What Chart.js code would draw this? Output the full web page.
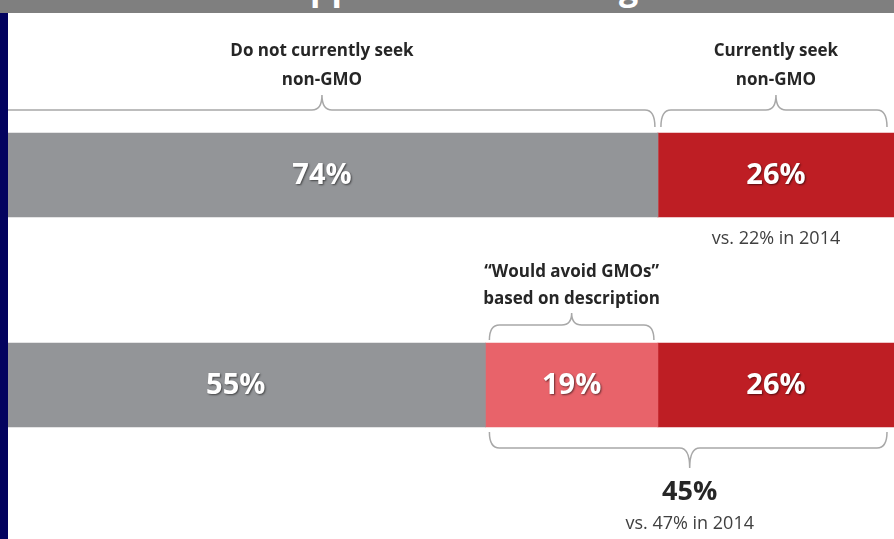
<!DOCTYPE html>
<html>
<head>
<meta charset="utf-8">
<script src="https://cdn.jsdelivr.net/npm/chart.js@4/dist/chart.umd.min.js"></script>
<style>
  html, body { margin:0; padding:0; width:894px; height:539px; overflow:hidden; background:#fff; }
  #wrap { position:absolute; left:-14px; top:0; width:908px; height:539px; }
  #header { position:absolute; left:0; top:0; width:894px; height:13px; background:#7f7f7f; overflow:hidden; z-index:5; }
  #title { position:absolute; left:110px; top:-33px; color:#fff; font:bold 34px "Open Sans", sans-serif; white-space:nowrap; line-height:40px; }
  #navy { position:absolute; left:0; top:13px; width:8px; height:526px; background:#03035f; z-index:5; }
</style>
</head>
<body>
<div id="header"><div id="title">Consumer approach to labeling</div></div>
<div id="navy"></div>
<div id="wrap"><canvas id="c" width="908" height="539"></canvas></div>
<script>
const categories = ["Currently seek non-GMO", "Currently seek + would avoid GMOs"];
const doNotSeek = [74, 55];
const wouldAvoid = [0, 19];
const currentlySeek = [26, 26];
const totalAvoid = 45;
const prior2014Seek = 22;
const prior2014Avoid = 47;

const GRAY = "#939598", RED = "#be1e24", PINK = "#e8636a", LINE = "#a8a8a8", TXT = "#262626", SUB = "#404040";
const FONT = "'Open Sans', sans-serif";

// position the (mostly clipped) title so its "pp" sits where the reference shows it
(function () {
  const t = document.getElementById("title");
  const m = document.createElement("canvas").getContext("2d");
  m.font = "bold 34px 'Open Sans', sans-serif";
  t.style.left = (310 - m.measureText("Consumer a").width) + "px";
})();

function brace(ctx, x1, x2, yEnd, yLine, yPeak, xm) {
  const r = Math.min(10, (x2 - x1) / 4);
  ctx.beginPath();
  ctx.moveTo(x1, yEnd);
  ctx.quadraticCurveTo(x1, yLine, x1 + r, yLine);
  ctx.lineTo(xm - r, yLine);
  ctx.quadraticCurveTo(xm, yLine, xm, yPeak);
  ctx.moveTo(xm, yPeak);
  ctx.quadraticCurveTo(xm, yLine, xm + r, yLine);
  ctx.lineTo(x2 - r, yLine);
  ctx.quadraticCurveTo(x2, yLine, x2, yEnd);
  ctx.stroke();
}

const annot = {
  id: "annot",
  afterDatasetsDraw(chart) {
    const ctx = chart.ctx;
    const xs = chart.scales.x;
    const m0 = chart.getDatasetMeta(0).data;
    const top1 = m0[0].y - m0[0].height / 2, top2 = m0[1].y - m0[1].height / 2, bot2 = m0[1].y + m0[1].height / 2;
    ctx.save();
    ctx.font = "bold 29px " + FONT;
    ctx.textAlign = "center"; ctx.textBaseline = "middle";
    ctx.fillStyle = "#fff";
    ctx.shadowColor = "rgba(0,0,0,0.55)"; ctx.shadowOffsetX = 1; ctx.shadowOffsetY = 1; ctx.shadowBlur = 2;
    chart.data.datasets.forEach((ds, di) => {
      chart.getDatasetMeta(di).data.forEach((bar, i) => {
        const v = ds.data[i];
        if (!v) return;
        ctx.fillText(v + "%", (bar.x + bar.base) / 2, bar.y + 1);
      });
    });
    ctx.restore();
    ctx.save();
    ctx.strokeStyle = LINE; ctx.lineWidth = 1.5;
    const x0 = xs.getPixelForValue(0), x55 = xs.getPixelForValue(doNotSeek[1]);
    const x74 = xs.getPixelForValue(doNotSeek[0]), x100 = xs.getPixelForValue(100);
    brace(ctx, x0 + 3, x74 - 3, top1 - 6, top1 - 23, top1 - 38, (x0 + x74) / 2);
    brace(ctx, x74 + 3, x100 - 7, top1 - 6, top1 - 23, top1 - 38, (x74 + x100) / 2);
    brace(ctx, x55 + 4, x74 - 4, top2 - 3, top2 - 18, top2 - 30, (x55 + x74) / 2);
    brace(ctx, x55 + 4, x100 - 7, bot2 + 5, bot2 + 21, bot2 + 41, (x55 + x100) / 2);
    ctx.textAlign = "center"; ctx.textBaseline = "middle";
    ctx.fillStyle = TXT;
    ctx.font = "bold 17px " + FONT;
    const cL = (x0 + x74) / 2, cR = (x74 + x100) / 2, cP = (x55 + x74) / 2, cB = (x55 + x100) / 2;
    ctx.fillText("Do not currently seek", cL, top1 - 82);
    ctx.fillText("non-GMO", cL, top1 - 53);
    ctx.fillText("Currently seek", cR, top1 - 82);
    ctx.fillText("non-GMO", cR, top1 - 53);
    ctx.fillText("\u201CWould avoid GMOs\u201D", cP, top2 - 71);
    ctx.fillText("based on description", cP, top2 - 44);
    ctx.font = "bold 27px " + FONT;
    ctx.fillText(totalAvoid + "%", cB, bot2 + 65);
    ctx.fillStyle = SUB;
    ctx.font = "18px " + FONT;
    ctx.fillText("vs. " + prior2014Seek + "% in 2014", cR, top1 + 106);
    ctx.fillText("vs. " + prior2014Avoid + "% in 2014", cB, bot2 + 97);
    ctx.restore();
  }
};

new Chart(document.getElementById("c"), {
  type: "bar",
  data: {
    labels: categories,
    datasets: [
      { label: "Do not currently seek non-GMO", data: doNotSeek, backgroundColor: GRAY },
      { label: "Would avoid GMOs based on description", data: wouldAvoid, backgroundColor: PINK },
      { label: "Currently seek non-GMO", data: currentlySeek, backgroundColor: RED }
    ]
  },
  options: {
    indexAxis: "y",
    responsive: false,
    animation: false,
    barThickness: 84,
    layout: { padding: { top: 70, bottom: 49, left: 0, right: 0 } },
    plugins: { legend: { display: false }, tooltip: { enabled: false } },
    scales: {
      x: { stacked: true, min: 0, max: 100, display: false },
      y: { stacked: true, display: false }
    }
  },
  plugins: [annot]
});
</script>
</body>
</html>
